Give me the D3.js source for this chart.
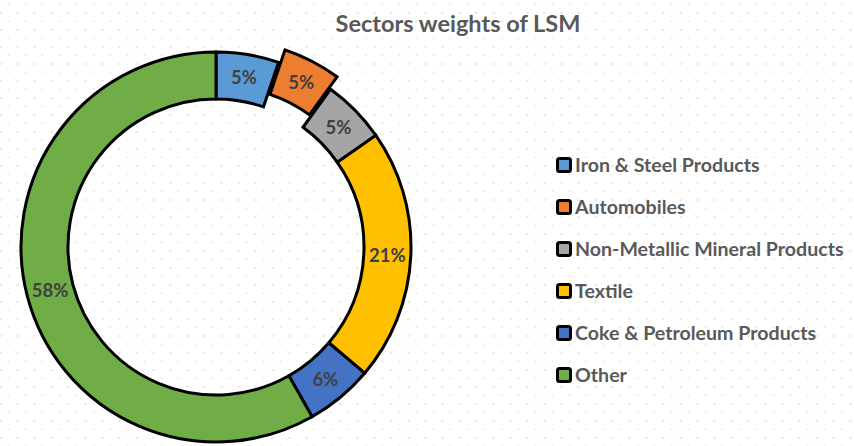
<!DOCTYPE html>
<html><head><meta charset="utf-8">
<script src="https://cdn.jsdelivr.net/npm/d3@7"></script>
<style>html,body{margin:0;padding:0;background:#fff;}svg{display:block;}</style>
</head><body>
<svg id="chart" width="854" height="446"></svg>
<script>
const title = "Sectors weights of LSM";
const categories = ["Iron & Steel Products","Automobiles","Non-Metallic Mineral Products","Textile","Coke & Petroleum Products","Other"];
const values = [5.2, 4.8, 5.3, 20.9, 5.6, 58.2];
const colors = ["#5B9BD5","#ED7D31","#A5A5A5","#FFC000","#4472C4","#70AD47"];
const exploded = [false, true, false, false, false, false];

const svg = d3.select("#chart");
const W = 854, H = 446;
const font = "Lato, 'Open Sans', sans-serif";

// dotted background
const defs = svg.append("defs");
const pat = defs.append("pattern").attr("id","dots").attr("patternUnits","userSpaceOnUse")
  .attr("width",17).attr("height",17);
pat.append("rect").attr("x",7.5).attr("y",3.5).attr("width",2).attr("height",1.5).attr("fill","#e6eed5");
pat.append("rect").attr("x",-0.5).attr("y",12).attr("width",2).attr("height",2).attr("fill","#dcebd6");
pat.append("rect").attr("x",16.5).attr("y",12).attr("width",2).attr("height",2).attr("fill","#dcebd6");
svg.append("rect").attr("width",W).attr("height",H).attr("fill","#fff");
svg.append("rect").attr("width",W).attr("height",H).attr("fill","url(#dots)");

svg.append("text").attr("x",458).attr("y",32).attr("text-anchor","middle")
  .attr("font-family",font).attr("font-weight","bold").attr("font-size",23.5)
  .attr("fill","#595959").text(title);

const cx = 216, cy = 247, rOut = 195, rIn = 148, explode = 14;
const pie = d3.pie().sort(null).value(d => d)(values);
const arc = d3.arc().innerRadius(rIn).outerRadius(rOut);
const g = svg.append("g").attr("transform",`translate(${cx},${cy})`);

const slices = g.selectAll("g.slice").data(pie).join("g").attr("class","slice")
  .attr("transform",(d,i) => {
    if (!exploded[i]) return null;
    const a = (d.startAngle + d.endAngle) / 2;
    return `translate(${explode*Math.sin(a)},${-explode*Math.cos(a)})`;
  });
slices.append("path").attr("d",arc).attr("fill",(d,i)=>colors[i])
  .attr("stroke","#000").attr("stroke-width",3).attr("stroke-linejoin","miter");
slices.append("text")
  .attr("transform",d => `translate(${arc.centroid(d)})`)
  .attr("text-anchor","middle").attr("dy","0.36em")
  .attr("font-family",font).attr("font-weight","bold").attr("font-size",18.5)
  .attr("fill","#404040").text(d => Math.round(d.data) + "%");

// legend
const leg = svg.append("g");
const ly = d3.scalePoint().domain(categories).range([165, 375]);
const items = leg.selectAll("g").data(categories).join("g")
  .attr("transform", d => `translate(557,${ly(d)})`);
items.append("rect").attr("x",0.5).attr("y",-6.5).attr("width",13).attr("height",13).attr("rx",2)
  .attr("fill",(d,i)=>colors[i]).attr("stroke","#000").attr("stroke-width",3);
items.append("text").attr("x",18).attr("y",0).attr("dy","0.36em")
  .attr("font-family",font).attr("font-weight","bold").attr("font-size",19.6)
  .attr("fill","#595959").text(d => d);
</script>
</body></html>
